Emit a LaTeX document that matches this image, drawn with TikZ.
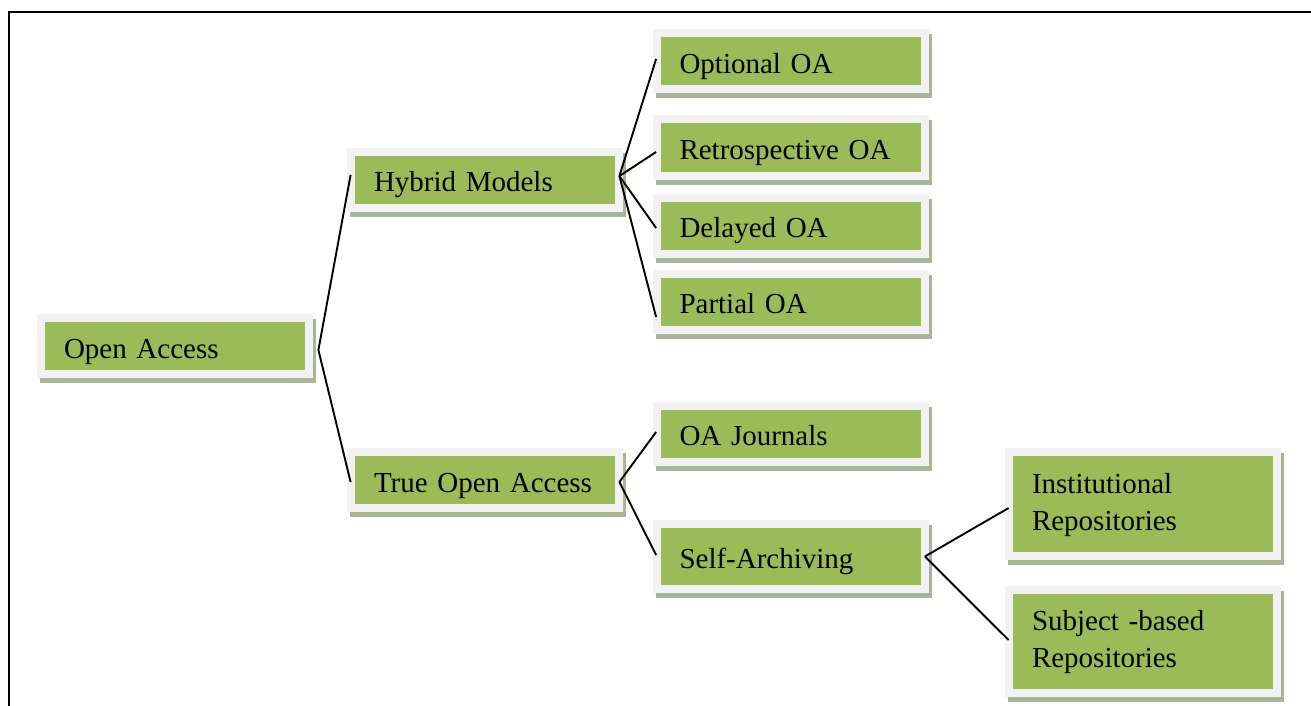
\documentclass[tikz,border=0pt]{standalone}
\usepackage{fontspec}
\setmainfont{Liberation Serif}
\usetikzlibrary{shadows}
\definecolor{oagreen}{HTML}{9BBB59}
\definecolor{oaframe}{HTML}{F2F2F2}
\definecolor{oashadow}{HTML}{A9B597}
\tikzset{
   oabox/.style={fill=oaframe, minimum height=32pt, text width=111pt,
      inner xsep=13.5pt, inner ysep=0pt, align=left,
      font=\fontsize{14.5}{18.5}\selectfont, text height=16pt, text depth=4pt,
      drop shadow={shadow xshift=1.5pt, shadow yshift=-2.5pt, fill=oashadow, opacity=1},
      path picture={\fill[oagreen]
         ([shift={(4pt,-4pt)}]path picture bounding box.north west) rectangle
         ([shift={(-4pt,4pt)}]path picture bounding box.south east);}},
   twoline/.style={text height=12pt, text depth=23pt},
   branch/.style={draw=black, line width=0.95pt},
}

\begin{document}
\begin{tikzpicture}[x=0.5pt, y=-0.5pt]
   \useasboundingbox (0,0) rectangle (1311,706);
   % frame
   \draw[line width=1pt] (1311,12) -- (9.3,12) -- (9.3,706);

   % boxes
   \node[oabox] (oa) at (175,346) {Open Access};
   \node[oabox] (hybrid) at (485,179.5) {Hybrid Models};
   \node[oabox] (true) at (485,480) {True Open Access};
   \node[oabox] (optional) at (790.5,61.5) {Optional OA};
   \node[oabox] (retro) at (790.5,147.5) {Retrospective OA};
   \node[oabox] (delayed) at (790.5,225.5) {Delayed OA};
   \node[oabox] (partial) at (790.5,301.5) {Partial OA};
   \node[oabox] (journals) at (790.5,433.5) {OA Journals};
   \node[oabox, minimum height=36.5pt] (self) at (790.5,556.5) {Self-Archiving};
   \node[oabox, twoline, minimum height=56pt] (inst) at (1143,504) {Institutional\\Repositories};
   \node[oabox, twoline, minimum height=55.5pt] (subject) at (1143,641.5) {Subject -based\\Repositories};

   % branches
   \draw[branch] ([shift={(2.5pt,-2pt)}]oa.east) -- ([shift={(2pt,2.25pt)}]hybrid.west);
   \draw[branch] ([shift={(2.5pt,-2pt)}]oa.east) -- ([shift={(2pt,-1pt)}]true.west);
   \foreach \child/\dy in {optional/1.25pt, retro/-2.25pt, delayed/-1.25pt, partial/-7.75pt}
      \draw[branch] ([shift={(-2pt,1.75pt)}]hybrid.east) -- ([shift={(2pt,\dy)}]\child.west);
   \foreach \child/\dy in {journals/0.75pt, self/0.75pt}
      \draw[branch] ([shift={(-2pt,-1pt)}]true.east) -- ([shift={(2pt,\dy)}]\child.west);
   \draw[branch] ([xshift=-2pt]self.east) -- ([shift={(2pt,-2pt)}]inst.west);
   \draw[branch] ([xshift=-2pt]self.east) -- ([shift={(2pt,0.75pt)}]subject.west);
\end{tikzpicture}
\end{document}
